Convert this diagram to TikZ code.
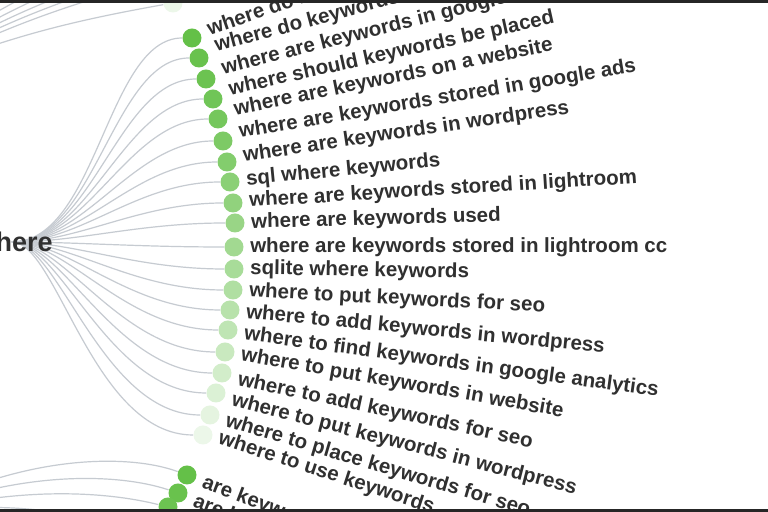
\documentclass[tikz,border=0pt]{standalone}
\usepackage{fontspec}
\setmainfont{Liberation Sans}
\usetikzlibrary{positioning}
\definecolor{leafgreen}{RGB}{100,192,72}
\definecolor{linkgray}{RGB}{198,203,209}
\definecolor{querytext}{RGB}{48,48,48}

\begin{document}
\begin{tikzpicture}[x=0.5pt, y=-0.5pt]
    % Styles
    \tikzstyle{leaf} = [circle, minimum size=9.5pt, inner sep=0pt]
    \tikzstyle{query} = [anchor=west, inner sep=2pt, text=querytext, font=\fontsize{10.25}{12}\selectfont\bfseries]
    \tikzstyle{link} = [draw=linkgray, line width=0.6pt]

    \useasboundingbox (0,0) rectangle (768,512);
    \clip (0,0) rectangle (768,512);
    \fill [white] (0,0) rectangle (768,512);

    % Leaves
    \node [leaf, fill=leafgreen!12] (p0) at (173,3) {};
    \node [leaf, fill=leafgreen] (c1) at (192,38) {};
    \node [leaf, fill=leafgreen!97] (c2) at (199,58) {};
    \node [leaf, fill=leafgreen!95] (c3) at (206,79) {};
    \node [leaf, fill=leafgreen!92] (c4) at (213,99) {};
    \node [leaf, fill=leafgreen!89] (c5) at (218,119) {};
    \node [leaf, fill=leafgreen!84] (c6) at (223,141) {};
    \node [leaf, fill=leafgreen!80] (c7) at (227,162) {};
    \node [leaf, fill=leafgreen!75] (c8) at (230,182) {};
    \node [leaf, fill=leafgreen!71] (c9) at (233,203) {};
    \node [leaf, fill=leafgreen!66] (c10) at (235,223) {};
    \node [leaf, fill=leafgreen!60] (c11) at (234,247) {};
    \node [leaf, fill=leafgreen!56] (c12) at (234,269) {};
    \node [leaf, fill=leafgreen!51] (c13) at (233,290) {};
    \node [leaf, fill=leafgreen!46] (c14) at (230,310) {};
    \node [leaf, fill=leafgreen!41] (c15) at (228,330) {};
    \node [leaf, fill=leafgreen!35] (c16) at (225,352) {};
    \node [leaf, fill=leafgreen!29] (c17) at (222,373) {};
    \node [leaf, fill=leafgreen!23] (c18) at (216,393) {};
    \node [leaf, fill=leafgreen!17] (c19) at (210,415) {};
    \node [leaf, fill=leafgreen!12] (c20) at (203,435) {};
    \node [leaf, fill=leafgreen] (b1) at (187,475) {};
    \node [leaf, fill=leafgreen!97] (b2) at (178,493) {};
    \node [leaf, fill=leafgreen!95] (b3) at (168,507) {};

    % Queries
    \node [query, right=1pt of c1, yshift=3pt, rotate=19] (q1) {where do keywords};
    \node [query, right=1pt of c2, yshift=5pt, rotate=15] (q2) {where do keywords};
    \node [query, right=1pt of c3, yshift=4.5pt, rotate=14] (q3) {where are keywords in google};
    \node [query, right=1pt of c4, yshift=4pt, rotate=12.5] (q4) {where should keywords be placed};
    \node [query, right=1pt of c5, yshift=4pt, rotate=11.5] (q5) {where are keywords on a website};
    \node [query, right=1pt of c6, yshift=3.75pt, rotate=9.5] (q6) {where are keywords stored in google ads};
    \node [query, right=1pt of c7, yshift=2.3pt, rotate=8.5] (q7) {where are keywords in wordpress};
    \node [query, right=1pt of c8, yshift=0.8pt, rotate=5.5] (q8) {sql where keywords};
    \node [query, right=1pt of c9, yshift=0.5pt, rotate=3.5] (q9) {where are keywords stored in lightroom};
    \node [query, right=1pt of c10, rotate=1.5] (q10) {where are keywords used};
    \node [query, right=1pt of c11] (q11) {where are keywords stored in lightroom cc};
    \node [query, right=1pt of c12, rotate=-1] (q12) {sqlite where keywords};
    \node [query, right=1pt of c13, yshift=-0.6pt, rotate=-3] (q13) {where to put keywords for seo};
    \node [query, right=1pt of c14, yshift=-1.25pt, rotate=-5.5] (q14) {where to add keywords in wordpress};
    \node [query, right=1pt of c15, yshift=-2pt, rotate=-7.8] (q15) {where to find keywords in google analytics};
    \node [query, right=1pt of c16, yshift=-1.2pt, rotate=-10] (q16) {where to put keywords in website};
    \node [query, right=1pt of c17, yshift=-3pt, rotate=-12] (q17) {where to add keywords for seo};
    \node [query, right=1pt of c18, yshift=-3pt, rotate=-14.5] (q18) {where to put keywords in wordpress};
    \node [query, right=1pt of c19, yshift=-2.5pt, rotate=-16.5] (q19) {where to place keywords for seo};
    \node [query, right=1pt of c20, yshift=-1.2pt, rotate=-18] (q20) {where to use keywords};
    \node [query, right=1pt of b1, yshift=-3pt, rotate=-21] (r1) {are keywords};
    \node [query, right=1pt of b2, yshift=-3.5pt, rotate=-21] (r2) {are keywords};

    % Links from "where"
    \coordinate (hub) at (12,242);
    \draw [link] (hub) .. controls +(85,0) and +(-85,0) .. (c1);
    \draw [link] (hub) .. controls +(83,0) and +(-86,0) .. (c2);
    \draw [link] (hub) .. controls +(81,0) and +(-88,0) .. (c3);
    \draw [link] (hub) .. controls +(79,0) and +(-89,0) .. (c4);
    \draw [link] (hub) .. controls +(77,0) and +(-90,0) .. (c5);
    \draw [link] (hub) .. controls +(74,0) and +(-90,0) .. (c6);
    \draw [link] (hub) .. controls +(72,0) and +(-93,0) .. (c7);
    \draw [link] (hub) .. controls +(70,0) and +(-94,0) .. (c8);
    \draw [link] (hub) .. controls +(68,0) and +(-95,0) .. (c9);
    \draw [link] (hub) .. controls +(66,0) and +(-97,0) .. (c10);
    \draw [link] (hub) .. controls +(64,0) and +(-98,0) .. (c11);
    \draw [link] (hub) .. controls +(62,0) and +(-99,0) .. (c12);
    \draw [link] (hub) .. controls +(60,0) and +(-101,0) .. (c13);
    \draw [link] (hub) .. controls +(58,0) and +(-102,0) .. (c14);
    \draw [link] (hub) .. controls +(56,0) and +(-103,0) .. (c15);
    \draw [link] (hub) .. controls +(53,0) and +(-104,0) .. (c16);
    \draw [link] (hub) .. controls +(51,0) and +(-106,0) .. (c17);
    \draw [link] (hub) .. controls +(49,0) and +(-107,0) .. (c18);
    \draw [link] (hub) .. controls +(47,0) and +(-108,0) .. (c19);
    \draw [link] (hub) .. controls +(45,0) and +(-110,0) .. (c20);

    % Links of the group above
    \coordinate (hubA) at (-105,82);
    \coordinate (f1) at (159,-20);
    \coordinate (f2) at (128,-20);
    \coordinate (f3) at (103,-20);
    \coordinate (f4) at (80,-20);
    \coordinate (f5) at (58,-20);
    \coordinate (f6) at (38,-20);
    \draw [link] (hubA) to[bend left=6] (p0);
    \draw [link] (hubA) to[bend left=6] (f1);
    \draw [link] (hubA) to[bend left=6] (f2);
    \draw [link] (hubA) to[bend left=6] (f3);
    \draw [link] (hubA) to[bend left=6] (f4);
    \draw [link] (hubA) to[bend left=6] (f5);
    \draw [link] (hubA) to[bend left=6] (f6);

    % Links of the group below
    \coordinate (hubB) at (-90,515);
    \coordinate (g1) at (150,530);
    \coordinate (g2) at (140,545);
    \draw [link] (hubB) .. controls +(110,-60) and +(-60,-22) .. (b1);
    \draw [link] (hubB) .. controls +(110,-45) and +(-60,-20) .. (b2);
    \draw [link] (hubB) .. controls +(110,-30) and +(-60,-15) .. (b3);
    \draw [link] (hubB) .. controls +(110,-20) and +(-60,-10) .. (g1);
    \draw [link] (hubB) .. controls +(110,-12) and +(-60,-6) .. (g2);

    % Root
    \node [anchor=east, inner sep=0pt, text=querytext, font=\fontsize{13.5}{16}\selectfont\bfseries] (root) at (53,242) {where};

    % Frame
    \fill [black!85] (0,0) rectangle (768,3);
    \fill [black!85] (0,509.5) rectangle (768,512);
\end{tikzpicture}
\end{document}
